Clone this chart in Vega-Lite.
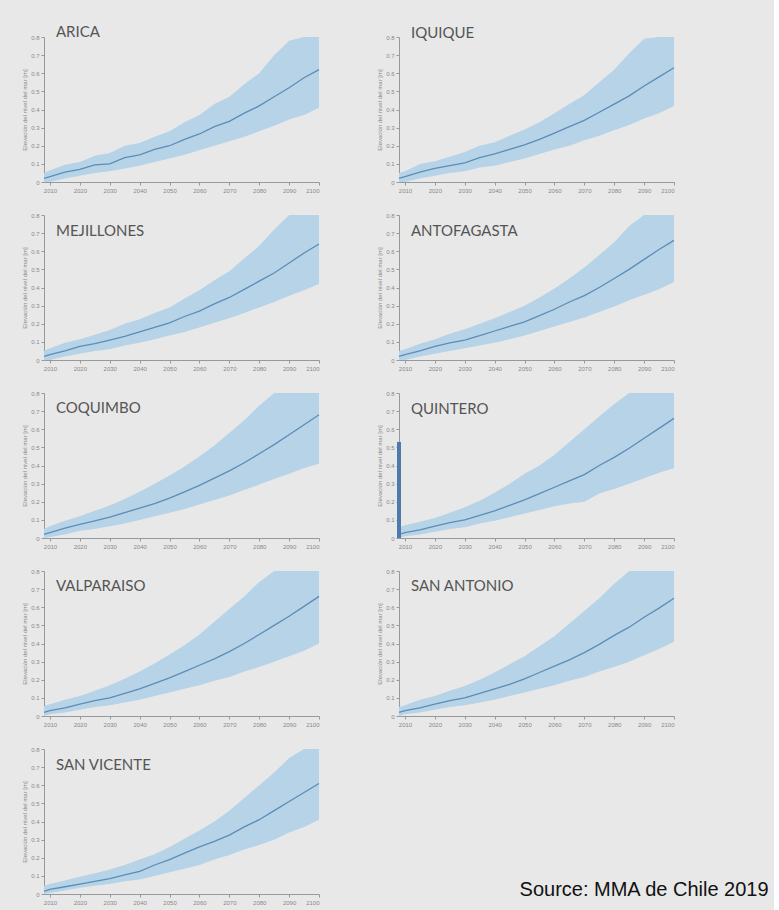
{
  "$schema": "https://vega.github.io/schema/vega-lite/v6.json",
  "background": "#e8e8e8",
  "padding": {"left": 21, "top": 25, "right": 5, "bottom": 5},
  "title": {"text": "Source: MMA de Chile 2019", "orient": "bottom", "anchor": "end", "font": "Liberation Sans", "fontSize": 20, "fontWeight": "normal", "color": "#111", "dx": 92, "dy": -29},
  "data": {"values": [
    {"s":"ARICA","y":2008,"lo":0,"m":0.02,"hi":0.05},
    {"s":"ARICA","y":2010,"lo":0,"m":0.03,"hi":0.065},
    {"s":"ARICA","y":2015,"lo":0.02,"m":0.055,"hi":0.095},
    {"s":"ARICA","y":2020,"lo":0.035,"m":0.07,"hi":0.11},
    {"s":"ARICA","y":2025,"lo":0.05,"m":0.095,"hi":0.145},
    {"s":"ARICA","y":2030,"lo":0.06,"m":0.1,"hi":0.16},
    {"s":"ARICA","y":2035,"lo":0.075,"m":0.135,"hi":0.2},
    {"s":"ARICA","y":2040,"lo":0.09,"m":0.15,"hi":0.215},
    {"s":"ARICA","y":2045,"lo":0.11,"m":0.18,"hi":0.25},
    {"s":"ARICA","y":2050,"lo":0.13,"m":0.2,"hi":0.28},
    {"s":"ARICA","y":2055,"lo":0.15,"m":0.235,"hi":0.33},
    {"s":"ARICA","y":2060,"lo":0.175,"m":0.265,"hi":0.37},
    {"s":"ARICA","y":2065,"lo":0.2,"m":0.305,"hi":0.43},
    {"s":"ARICA","y":2070,"lo":0.225,"m":0.335,"hi":0.47},
    {"s":"ARICA","y":2075,"lo":0.25,"m":0.38,"hi":0.54},
    {"s":"ARICA","y":2080,"lo":0.28,"m":0.42,"hi":0.6},
    {"s":"ARICA","y":2085,"lo":0.31,"m":0.47,"hi":0.7},
    {"s":"ARICA","y":2090,"lo":0.345,"m":0.52,"hi":0.78},
    {"s":"ARICA","y":2095,"lo":0.37,"m":0.575,"hi":0.8},
    {"s":"ARICA","y":2100,"lo":0.41,"m":0.62,"hi":0.8},
    {"s":"IQUIQUE","y":2008,"lo":0,"m":0.02,"hi":0.05},
    {"s":"IQUIQUE","y":2010,"lo":0,"m":0.03,"hi":0.06},
    {"s":"IQUIQUE","y":2015,"lo":0.02,"m":0.055,"hi":0.1},
    {"s":"IQUIQUE","y":2020,"lo":0.035,"m":0.075,"hi":0.115},
    {"s":"IQUIQUE","y":2025,"lo":0.05,"m":0.09,"hi":0.14},
    {"s":"IQUIQUE","y":2030,"lo":0.06,"m":0.105,"hi":0.165},
    {"s":"IQUIQUE","y":2035,"lo":0.08,"m":0.135,"hi":0.2},
    {"s":"IQUIQUE","y":2040,"lo":0.09,"m":0.155,"hi":0.22},
    {"s":"IQUIQUE","y":2045,"lo":0.11,"m":0.18,"hi":0.255},
    {"s":"IQUIQUE","y":2050,"lo":0.13,"m":0.205,"hi":0.29},
    {"s":"IQUIQUE","y":2055,"lo":0.155,"m":0.235,"hi":0.33},
    {"s":"IQUIQUE","y":2060,"lo":0.18,"m":0.27,"hi":0.38},
    {"s":"IQUIQUE","y":2065,"lo":0.2,"m":0.305,"hi":0.43},
    {"s":"IQUIQUE","y":2070,"lo":0.23,"m":0.34,"hi":0.48},
    {"s":"IQUIQUE","y":2075,"lo":0.255,"m":0.385,"hi":0.55},
    {"s":"IQUIQUE","y":2080,"lo":0.285,"m":0.43,"hi":0.62},
    {"s":"IQUIQUE","y":2085,"lo":0.315,"m":0.475,"hi":0.71},
    {"s":"IQUIQUE","y":2090,"lo":0.35,"m":0.53,"hi":0.79},
    {"s":"IQUIQUE","y":2095,"lo":0.38,"m":0.58,"hi":0.8},
    {"s":"IQUIQUE","y":2100,"lo":0.42,"m":0.63,"hi":0.8},
    {"s":"MEJILLONES","y":2008,"lo":0,"m":0.02,"hi":0.05},
    {"s":"MEJILLONES","y":2010,"lo":0,"m":0.03,"hi":0.065},
    {"s":"MEJILLONES","y":2015,"lo":0.02,"m":0.05,"hi":0.095},
    {"s":"MEJILLONES","y":2020,"lo":0.035,"m":0.075,"hi":0.115},
    {"s":"MEJILLONES","y":2025,"lo":0.05,"m":0.09,"hi":0.14},
    {"s":"MEJILLONES","y":2030,"lo":0.06,"m":0.11,"hi":0.165},
    {"s":"MEJILLONES","y":2035,"lo":0.08,"m":0.13,"hi":0.2},
    {"s":"MEJILLONES","y":2040,"lo":0.095,"m":0.155,"hi":0.225},
    {"s":"MEJILLONES","y":2045,"lo":0.115,"m":0.18,"hi":0.26},
    {"s":"MEJILLONES","y":2050,"lo":0.135,"m":0.205,"hi":0.29},
    {"s":"MEJILLONES","y":2055,"lo":0.155,"m":0.24,"hi":0.34},
    {"s":"MEJILLONES","y":2060,"lo":0.18,"m":0.27,"hi":0.385},
    {"s":"MEJILLONES","y":2065,"lo":0.205,"m":0.31,"hi":0.44},
    {"s":"MEJILLONES","y":2070,"lo":0.23,"m":0.345,"hi":0.49},
    {"s":"MEJILLONES","y":2075,"lo":0.26,"m":0.39,"hi":0.56},
    {"s":"MEJILLONES","y":2080,"lo":0.29,"m":0.435,"hi":0.63},
    {"s":"MEJILLONES","y":2085,"lo":0.32,"m":0.48,"hi":0.72},
    {"s":"MEJILLONES","y":2090,"lo":0.355,"m":0.535,"hi":0.8},
    {"s":"MEJILLONES","y":2095,"lo":0.385,"m":0.59,"hi":0.8},
    {"s":"MEJILLONES","y":2100,"lo":0.42,"m":0.64,"hi":0.8},
    {"s":"ANTOFAGASTA","y":2008,"lo":0,"m":0.02,"hi":0.05},
    {"s":"ANTOFAGASTA","y":2010,"lo":0,"m":0.03,"hi":0.06},
    {"s":"ANTOFAGASTA","y":2015,"lo":0.02,"m":0.05,"hi":0.09},
    {"s":"ANTOFAGASTA","y":2020,"lo":0.035,"m":0.075,"hi":0.115},
    {"s":"ANTOFAGASTA","y":2025,"lo":0.05,"m":0.095,"hi":0.145},
    {"s":"ANTOFAGASTA","y":2030,"lo":0.065,"m":0.11,"hi":0.17},
    {"s":"ANTOFAGASTA","y":2035,"lo":0.08,"m":0.135,"hi":0.2},
    {"s":"ANTOFAGASTA","y":2040,"lo":0.095,"m":0.16,"hi":0.23},
    {"s":"ANTOFAGASTA","y":2045,"lo":0.115,"m":0.185,"hi":0.265},
    {"s":"ANTOFAGASTA","y":2050,"lo":0.135,"m":0.21,"hi":0.3},
    {"s":"ANTOFAGASTA","y":2055,"lo":0.16,"m":0.245,"hi":0.345},
    {"s":"ANTOFAGASTA","y":2060,"lo":0.185,"m":0.28,"hi":0.395},
    {"s":"ANTOFAGASTA","y":2065,"lo":0.21,"m":0.32,"hi":0.45},
    {"s":"ANTOFAGASTA","y":2070,"lo":0.235,"m":0.355,"hi":0.51},
    {"s":"ANTOFAGASTA","y":2075,"lo":0.265,"m":0.4,"hi":0.58},
    {"s":"ANTOFAGASTA","y":2080,"lo":0.295,"m":0.45,"hi":0.65},
    {"s":"ANTOFAGASTA","y":2085,"lo":0.33,"m":0.5,"hi":0.74},
    {"s":"ANTOFAGASTA","y":2090,"lo":0.36,"m":0.555,"hi":0.8},
    {"s":"ANTOFAGASTA","y":2095,"lo":0.39,"m":0.61,"hi":0.8},
    {"s":"ANTOFAGASTA","y":2100,"lo":0.43,"m":0.66,"hi":0.8},
    {"s":"COQUIMBO","y":2008,"lo":0,"m":0.02,"hi":0.05},
    {"s":"COQUIMBO","y":2010,"lo":0.005,"m":0.03,"hi":0.065},
    {"s":"COQUIMBO","y":2015,"lo":0.02,"m":0.055,"hi":0.095},
    {"s":"COQUIMBO","y":2020,"lo":0.04,"m":0.075,"hi":0.12},
    {"s":"COQUIMBO","y":2025,"lo":0.05,"m":0.095,"hi":0.15},
    {"s":"COQUIMBO","y":2030,"lo":0.065,"m":0.115,"hi":0.18},
    {"s":"COQUIMBO","y":2035,"lo":0.08,"m":0.14,"hi":0.215},
    {"s":"COQUIMBO","y":2040,"lo":0.1,"m":0.165,"hi":0.255},
    {"s":"COQUIMBO","y":2045,"lo":0.12,"m":0.19,"hi":0.3},
    {"s":"COQUIMBO","y":2050,"lo":0.14,"m":0.22,"hi":0.345},
    {"s":"COQUIMBO","y":2055,"lo":0.16,"m":0.255,"hi":0.395},
    {"s":"COQUIMBO","y":2060,"lo":0.185,"m":0.29,"hi":0.45},
    {"s":"COQUIMBO","y":2065,"lo":0.21,"m":0.33,"hi":0.51},
    {"s":"COQUIMBO","y":2070,"lo":0.235,"m":0.37,"hi":0.58},
    {"s":"COQUIMBO","y":2075,"lo":0.265,"m":0.415,"hi":0.65},
    {"s":"COQUIMBO","y":2080,"lo":0.295,"m":0.465,"hi":0.73},
    {"s":"COQUIMBO","y":2085,"lo":0.325,"m":0.515,"hi":0.8},
    {"s":"COQUIMBO","y":2090,"lo":0.355,"m":0.57,"hi":0.8},
    {"s":"COQUIMBO","y":2095,"lo":0.385,"m":0.625,"hi":0.8},
    {"s":"COQUIMBO","y":2100,"lo":0.41,"m":0.68,"hi":0.8},
    {"s":"QUINTERO","y":2008,"lo":0,"m":0.02,"hi":0.06,"spike":0.53},
    {"s":"QUINTERO","y":2010,"lo":0.01,"m":0.03,"hi":0.07},
    {"s":"QUINTERO","y":2015,"lo":0.02,"m":0.045,"hi":0.09},
    {"s":"QUINTERO","y":2020,"lo":0.035,"m":0.065,"hi":0.11},
    {"s":"QUINTERO","y":2025,"lo":0.05,"m":0.085,"hi":0.14},
    {"s":"QUINTERO","y":2030,"lo":0.06,"m":0.1,"hi":0.17},
    {"s":"QUINTERO","y":2035,"lo":0.08,"m":0.125,"hi":0.205},
    {"s":"QUINTERO","y":2040,"lo":0.095,"m":0.15,"hi":0.25},
    {"s":"QUINTERO","y":2045,"lo":0.115,"m":0.18,"hi":0.3},
    {"s":"QUINTERO","y":2050,"lo":0.135,"m":0.21,"hi":0.355},
    {"s":"QUINTERO","y":2055,"lo":0.155,"m":0.245,"hi":0.4},
    {"s":"QUINTERO","y":2060,"lo":0.175,"m":0.28,"hi":0.46},
    {"s":"QUINTERO","y":2065,"lo":0.19,"m":0.315,"hi":0.53},
    {"s":"QUINTERO","y":2070,"lo":0.2,"m":0.35,"hi":0.6},
    {"s":"QUINTERO","y":2075,"lo":0.245,"m":0.4,"hi":0.67},
    {"s":"QUINTERO","y":2080,"lo":0.27,"m":0.445,"hi":0.74},
    {"s":"QUINTERO","y":2085,"lo":0.3,"m":0.495,"hi":0.8},
    {"s":"QUINTERO","y":2090,"lo":0.33,"m":0.55,"hi":0.8},
    {"s":"QUINTERO","y":2095,"lo":0.36,"m":0.605,"hi":0.8},
    {"s":"QUINTERO","y":2100,"lo":0.385,"m":0.66,"hi":0.8},
    {"s":"VALPARAISO","y":2008,"lo":0,"m":0.02,"hi":0.055},
    {"s":"VALPARAISO","y":2010,"lo":0.01,"m":0.03,"hi":0.065},
    {"s":"VALPARAISO","y":2015,"lo":0.02,"m":0.045,"hi":0.09},
    {"s":"VALPARAISO","y":2020,"lo":0.035,"m":0.065,"hi":0.11},
    {"s":"VALPARAISO","y":2025,"lo":0.05,"m":0.085,"hi":0.14},
    {"s":"VALPARAISO","y":2030,"lo":0.06,"m":0.1,"hi":0.17},
    {"s":"VALPARAISO","y":2035,"lo":0.075,"m":0.125,"hi":0.205},
    {"s":"VALPARAISO","y":2040,"lo":0.09,"m":0.15,"hi":0.245},
    {"s":"VALPARAISO","y":2045,"lo":0.11,"m":0.18,"hi":0.29},
    {"s":"VALPARAISO","y":2050,"lo":0.13,"m":0.21,"hi":0.34},
    {"s":"VALPARAISO","y":2055,"lo":0.15,"m":0.245,"hi":0.39},
    {"s":"VALPARAISO","y":2060,"lo":0.17,"m":0.28,"hi":0.45},
    {"s":"VALPARAISO","y":2065,"lo":0.195,"m":0.315,"hi":0.52},
    {"s":"VALPARAISO","y":2070,"lo":0.215,"m":0.355,"hi":0.59},
    {"s":"VALPARAISO","y":2075,"lo":0.245,"m":0.4,"hi":0.66},
    {"s":"VALPARAISO","y":2080,"lo":0.27,"m":0.45,"hi":0.74},
    {"s":"VALPARAISO","y":2085,"lo":0.3,"m":0.5,"hi":0.8},
    {"s":"VALPARAISO","y":2090,"lo":0.33,"m":0.55,"hi":0.8},
    {"s":"VALPARAISO","y":2095,"lo":0.36,"m":0.605,"hi":0.8},
    {"s":"VALPARAISO","y":2100,"lo":0.4,"m":0.66,"hi":0.8},
    {"s":"SAN ANTONIO","y":2008,"lo":0,"m":0.02,"hi":0.05},
    {"s":"SAN ANTONIO","y":2010,"lo":0.01,"m":0.03,"hi":0.06},
    {"s":"SAN ANTONIO","y":2015,"lo":0.02,"m":0.045,"hi":0.09},
    {"s":"SAN ANTONIO","y":2020,"lo":0.035,"m":0.065,"hi":0.11},
    {"s":"SAN ANTONIO","y":2025,"lo":0.05,"m":0.085,"hi":0.14},
    {"s":"SAN ANTONIO","y":2030,"lo":0.06,"m":0.1,"hi":0.165},
    {"s":"SAN ANTONIO","y":2035,"lo":0.075,"m":0.125,"hi":0.2},
    {"s":"SAN ANTONIO","y":2040,"lo":0.09,"m":0.15,"hi":0.24},
    {"s":"SAN ANTONIO","y":2045,"lo":0.11,"m":0.175,"hi":0.285},
    {"s":"SAN ANTONIO","y":2050,"lo":0.13,"m":0.205,"hi":0.33},
    {"s":"SAN ANTONIO","y":2055,"lo":0.15,"m":0.24,"hi":0.385},
    {"s":"SAN ANTONIO","y":2060,"lo":0.17,"m":0.275,"hi":0.44},
    {"s":"SAN ANTONIO","y":2065,"lo":0.195,"m":0.31,"hi":0.51},
    {"s":"SAN ANTONIO","y":2070,"lo":0.215,"m":0.35,"hi":0.58},
    {"s":"SAN ANTONIO","y":2075,"lo":0.245,"m":0.395,"hi":0.65},
    {"s":"SAN ANTONIO","y":2080,"lo":0.27,"m":0.445,"hi":0.73},
    {"s":"SAN ANTONIO","y":2085,"lo":0.3,"m":0.49,"hi":0.8},
    {"s":"SAN ANTONIO","y":2090,"lo":0.335,"m":0.545,"hi":0.8},
    {"s":"SAN ANTONIO","y":2095,"lo":0.37,"m":0.595,"hi":0.8},
    {"s":"SAN ANTONIO","y":2100,"lo":0.41,"m":0.65,"hi":0.8},
    {"s":"SAN VICENTE","y":2008,"lo":0,"m":0.015,"hi":0.045},
    {"s":"SAN VICENTE","y":2010,"lo":0.005,"m":0.025,"hi":0.055},
    {"s":"SAN VICENTE","y":2015,"lo":0.02,"m":0.04,"hi":0.075},
    {"s":"SAN VICENTE","y":2020,"lo":0.035,"m":0.055,"hi":0.095},
    {"s":"SAN VICENTE","y":2025,"lo":0.045,"m":0.07,"hi":0.115},
    {"s":"SAN VICENTE","y":2030,"lo":0.055,"m":0.085,"hi":0.135},
    {"s":"SAN VICENTE","y":2035,"lo":0.07,"m":0.105,"hi":0.16},
    {"s":"SAN VICENTE","y":2040,"lo":0.08,"m":0.125,"hi":0.19},
    {"s":"SAN VICENTE","y":2045,"lo":0.1,"m":0.16,"hi":0.22},
    {"s":"SAN VICENTE","y":2050,"lo":0.12,"m":0.19,"hi":0.26},
    {"s":"SAN VICENTE","y":2055,"lo":0.14,"m":0.225,"hi":0.305},
    {"s":"SAN VICENTE","y":2060,"lo":0.16,"m":0.26,"hi":0.35},
    {"s":"SAN VICENTE","y":2065,"lo":0.19,"m":0.29,"hi":0.4},
    {"s":"SAN VICENTE","y":2070,"lo":0.215,"m":0.325,"hi":0.46},
    {"s":"SAN VICENTE","y":2075,"lo":0.245,"m":0.37,"hi":0.53},
    {"s":"SAN VICENTE","y":2080,"lo":0.27,"m":0.41,"hi":0.6},
    {"s":"SAN VICENTE","y":2085,"lo":0.3,"m":0.46,"hi":0.67},
    {"s":"SAN VICENTE","y":2090,"lo":0.34,"m":0.51,"hi":0.75},
    {"s":"SAN VICENTE","y":2095,"lo":0.37,"m":0.56,"hi":0.8},
    {"s":"SAN VICENTE","y":2100,"lo":0.41,"m":0.61,"hi":0.8}
  ]},
  "columns": 2,
  "spacing": {"row": 19, "column": 54},
  "concat": [
    {"transform": [{"filter": "datum.s == 'ARICA'"}], "encoding": {"x": {"field": "y", "type": "quantitative", "title": null, "scale": {"domain": [2008, 2100], "nice": false, "zero": false}, "axis": {"tickCount": 10, "format": "d", "labelOverlap": false}}}, "layer": [
      {"mark": "area", "encoding": {"y": {"field": "lo", "type": "quantitative", "title": "Elevación del nivel del mar [m]", "scale": {"domain": [0, 0.8], "nice": false}, "axis": {"tickCount": 8, "format": "~g", "labelOverlap": false}}, "y2": {"field": "hi"}}},
      {"mark": "line", "encoding": {"y": {"field": "m", "type": "quantitative", "title": "Elevación del nivel del mar [m]"}}},
      {"transform": [{"filter": "datum.y == 2100"}], "mark": "text", "encoding": {"x": {"datum": 2012, "type": "quantitative"}, "y": {"datum": 0.825, "type": "quantitative", "title": "Elevación del nivel del mar [m]"}, "text": {"field": "s"}}}
    ]},
    {"transform": [{"filter": "datum.s == 'IQUIQUE'"}], "encoding": {"x": {"field": "y", "type": "quantitative", "title": null, "scale": {"domain": [2008, 2100], "nice": false, "zero": false}, "axis": {"tickCount": 10, "format": "d", "labelOverlap": false}}}, "layer": [
      {"mark": "area", "encoding": {"y": {"field": "lo", "type": "quantitative", "title": "Elevación del nivel del mar [m]", "scale": {"domain": [0, 0.8], "nice": false}, "axis": {"tickCount": 8, "format": "~g", "labelOverlap": false}}, "y2": {"field": "hi"}}},
      {"mark": "line", "encoding": {"y": {"field": "m", "type": "quantitative", "title": "Elevación del nivel del mar [m]"}}},
      {"transform": [{"filter": "datum.y == 2100"}], "mark": "text", "encoding": {"x": {"datum": 2012, "type": "quantitative"}, "y": {"datum": 0.82, "type": "quantitative", "title": "Elevación del nivel del mar [m]"}, "text": {"field": "s"}}}
    ]},
    {"transform": [{"filter": "datum.s == 'MEJILLONES'"}], "encoding": {"x": {"field": "y", "type": "quantitative", "title": null, "scale": {"domain": [2008, 2100], "nice": false, "zero": false}, "axis": {"tickCount": 10, "format": "d", "labelOverlap": false}}}, "layer": [
      {"mark": "area", "encoding": {"y": {"field": "lo", "type": "quantitative", "title": "Elevación del nivel del mar [m]", "scale": {"domain": [0, 0.8], "nice": false}, "axis": {"tickCount": 8, "format": "~g", "labelOverlap": false}}, "y2": {"field": "hi"}}},
      {"mark": "line", "encoding": {"y": {"field": "m", "type": "quantitative", "title": "Elevación del nivel del mar [m]"}}},
      {"transform": [{"filter": "datum.y == 2100"}], "mark": "text", "encoding": {"x": {"datum": 2012, "type": "quantitative"}, "y": {"datum": 0.71, "type": "quantitative", "title": "Elevación del nivel del mar [m]"}, "text": {"field": "s"}}}
    ]},
    {"transform": [{"filter": "datum.s == 'ANTOFAGASTA'"}], "encoding": {"x": {"field": "y", "type": "quantitative", "title": null, "scale": {"domain": [2008, 2100], "nice": false, "zero": false}, "axis": {"tickCount": 10, "format": "d", "labelOverlap": false}}}, "layer": [
      {"mark": "area", "encoding": {"y": {"field": "lo", "type": "quantitative", "title": "Elevación del nivel del mar [m]", "scale": {"domain": [0, 0.8], "nice": false}, "axis": {"tickCount": 8, "format": "~g", "labelOverlap": false}}, "y2": {"field": "hi"}}},
      {"mark": "line", "encoding": {"y": {"field": "m", "type": "quantitative", "title": "Elevación del nivel del mar [m]"}}},
      {"transform": [{"filter": "datum.y == 2100"}], "mark": "text", "encoding": {"x": {"datum": 2012, "type": "quantitative"}, "y": {"datum": 0.71, "type": "quantitative", "title": "Elevación del nivel del mar [m]"}, "text": {"field": "s"}}}
    ]},
    {"transform": [{"filter": "datum.s == 'COQUIMBO'"}], "encoding": {"x": {"field": "y", "type": "quantitative", "title": null, "scale": {"domain": [2008, 2100], "nice": false, "zero": false}, "axis": {"tickCount": 10, "format": "d", "labelOverlap": false}}}, "layer": [
      {"mark": "area", "encoding": {"y": {"field": "lo", "type": "quantitative", "title": "Elevación del nivel del mar [m]", "scale": {"domain": [0, 0.8], "nice": false}, "axis": {"tickCount": 8, "format": "~g", "labelOverlap": false}}, "y2": {"field": "hi"}}},
      {"mark": "line", "encoding": {"y": {"field": "m", "type": "quantitative", "title": "Elevación del nivel del mar [m]"}}},
      {"transform": [{"filter": "datum.y == 2100"}], "mark": "text", "encoding": {"x": {"datum": 2012, "type": "quantitative"}, "y": {"datum": 0.72, "type": "quantitative", "title": "Elevación del nivel del mar [m]"}, "text": {"field": "s"}}}
    ]},
    {"transform": [{"filter": "datum.s == 'QUINTERO'"}], "encoding": {"x": {"field": "y", "type": "quantitative", "title": null, "scale": {"domain": [2008, 2100], "nice": false, "zero": false}, "axis": {"tickCount": 10, "format": "d", "labelOverlap": false}}}, "layer": [
      {"mark": "area", "encoding": {"y": {"field": "lo", "type": "quantitative", "title": "Elevación del nivel del mar [m]", "scale": {"domain": [0, 0.8], "nice": false}, "axis": {"tickCount": 8, "format": "~g", "labelOverlap": false}}, "y2": {"field": "hi"}}},
      {"mark": "line", "encoding": {"y": {"field": "m", "type": "quantitative", "title": "Elevación del nivel del mar [m]"}}},
      {"transform": [{"filter": "isValid(datum.spike)"}], "mark": "rule", "encoding": {"y": {"field": "spike", "type": "quantitative", "title": "Elevación del nivel del mar [m]"}, "y2": {"datum": 0}}},
      {"transform": [{"filter": "datum.y == 2100"}], "mark": "text", "encoding": {"x": {"datum": 2012, "type": "quantitative"}, "y": {"datum": 0.71, "type": "quantitative", "title": "Elevación del nivel del mar [m]"}, "text": {"field": "s"}}}
    ]},
    {"transform": [{"filter": "datum.s == 'VALPARAISO'"}], "encoding": {"x": {"field": "y", "type": "quantitative", "title": null, "scale": {"domain": [2008, 2100], "nice": false, "zero": false}, "axis": {"tickCount": 10, "format": "d", "labelOverlap": false}}}, "layer": [
      {"mark": "area", "encoding": {"y": {"field": "lo", "type": "quantitative", "title": "Elevación del nivel del mar [m]", "scale": {"domain": [0, 0.8], "nice": false}, "axis": {"tickCount": 8, "format": "~g", "labelOverlap": false}}, "y2": {"field": "hi"}}},
      {"mark": "line", "encoding": {"y": {"field": "m", "type": "quantitative", "title": "Elevación del nivel del mar [m]"}}},
      {"transform": [{"filter": "datum.y == 2100"}], "mark": "text", "encoding": {"x": {"datum": 2012, "type": "quantitative"}, "y": {"datum": 0.72, "type": "quantitative", "title": "Elevación del nivel del mar [m]"}, "text": {"field": "s"}}}
    ]},
    {"transform": [{"filter": "datum.s == 'SAN ANTONIO'"}], "encoding": {"x": {"field": "y", "type": "quantitative", "title": null, "scale": {"domain": [2008, 2100], "nice": false, "zero": false}, "axis": {"tickCount": 10, "format": "d", "labelOverlap": false}}}, "layer": [
      {"mark": "area", "encoding": {"y": {"field": "lo", "type": "quantitative", "title": "Elevación del nivel del mar [m]", "scale": {"domain": [0, 0.8], "nice": false}, "axis": {"tickCount": 8, "format": "~g", "labelOverlap": false}}, "y2": {"field": "hi"}}},
      {"mark": "line", "encoding": {"y": {"field": "m", "type": "quantitative", "title": "Elevación del nivel del mar [m]"}}},
      {"transform": [{"filter": "datum.y == 2100"}], "mark": "text", "encoding": {"x": {"datum": 2012, "type": "quantitative"}, "y": {"datum": 0.72, "type": "quantitative", "title": "Elevación del nivel del mar [m]"}, "text": {"field": "s"}}}
    ]},
    {"transform": [{"filter": "datum.s == 'SAN VICENTE'"}], "encoding": {"x": {"field": "y", "type": "quantitative", "title": null, "scale": {"domain": [2008, 2100], "nice": false, "zero": false}, "axis": {"tickCount": 10, "format": "d", "labelOverlap": false}}}, "layer": [
      {"mark": "area", "encoding": {"y": {"field": "lo", "type": "quantitative", "title": "Elevación del nivel del mar [m]", "scale": {"domain": [0, 0.8], "nice": false}, "axis": {"tickCount": 8, "format": "~g", "labelOverlap": false}}, "y2": {"field": "hi"}}},
      {"mark": "line", "encoding": {"y": {"field": "m", "type": "quantitative", "title": "Elevación del nivel del mar [m]"}}},
      {"transform": [{"filter": "datum.y == 2100"}], "mark": "text", "encoding": {"x": {"datum": 2012, "type": "quantitative"}, "y": {"datum": 0.71, "type": "quantitative", "title": "Elevación del nivel del mar [m]"}, "text": {"field": "s"}}}
    ]}
  ],
  "config": {
    "view": {"stroke": null, "continuousWidth": 275, "continuousHeight": 145},
    "font": "Liberation Sans",
    "area": {"color": "#b7d3e7", "opacity": 1},
    "line": {"color": "#5b8db8", "strokeWidth": 1.3},
    "rule": {"color": "#4f79ad", "strokeWidth": 4},
    "text": {"font": "Lato", "fontSize": 15, "color": "#555", "align": "left", "baseline": "middle"},
    "axis": {"grid": false, "labelOverlap": false, "domainColor": "#999", "tickColor": "#999", "labelColor": "#888", "labelFontSize": 6, "labelFont": "Liberation Sans", "titleFont": "Liberation Sans", "titleFontSize": 6, "titleFontWeight": "normal", "titleColor": "#888", "tickSize": 3, "labelPadding": 2, "titlePadding": 3}
  }
}
